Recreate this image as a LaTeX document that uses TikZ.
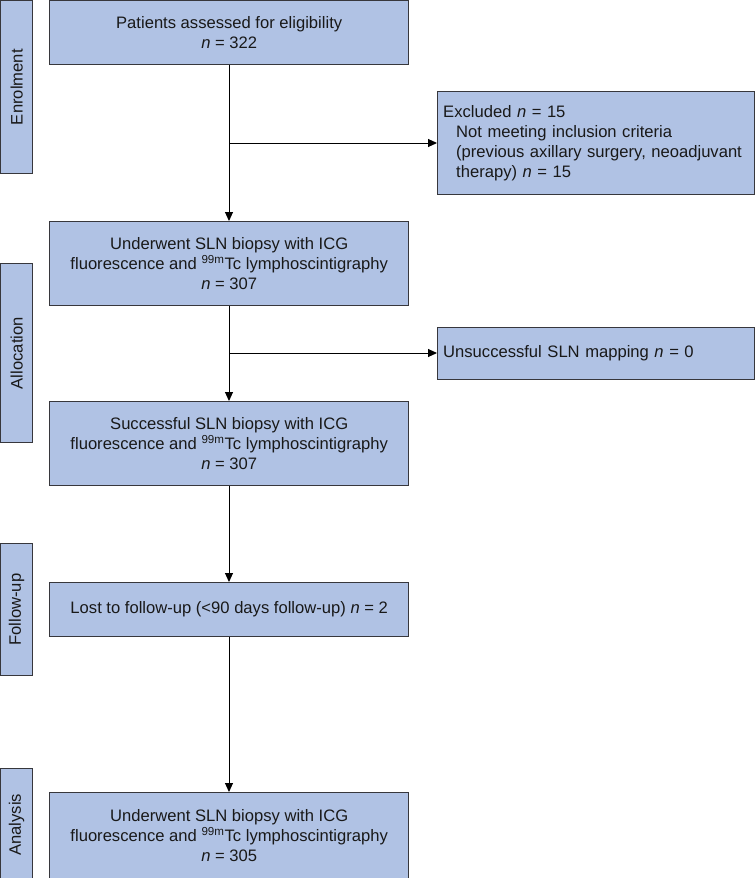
\documentclass[tikz,border=0pt]{standalone}
\usepackage{fontspec}
\setmainfont{Liberation Sans}
\usetikzlibrary{arrows.meta}
\definecolor{boxfill}{RGB}{176,194,228}
\definecolor{boxline}{RGB}{55,55,60}
\definecolor{ink}{RGB}{25,25,25}
\begin{document}
\begin{tikzpicture}[x=1pt,y=-1pt,
  box/.style={draw=boxline, fill=boxfill, line width=1.4pt, inner sep=0pt,
    anchor=north west, text=ink, font=\fontsize{16.6}{20.2}\selectfont},
  mainbox/.style={box, minimum width=359pt, align=center},
  sidebox/.style={box, minimum width=317pt, align=left},
  phase/.style={box, minimum width=32pt},
  phasetext/.style={text=ink, rotate=90, inner sep=0pt, font=\fontsize{16.6}{20}\selectfont},
  conn/.style={draw=black, line width=1pt, -{Triangle[length=9pt,width=8pt]}}]
\useasboundingbox (0,0) rectangle (755,878);
% phase labels
\node[phase, minimum height=173pt] (enrol) at (0,0) {};
\node[phasetext] (enrolt) at (enrol.center) {Enrolment};
\node[phase, minimum height=179pt] (alloc) at (0,263) {};
\node[phasetext] (alloct) at (alloc.center) {Allocation};
\node[phase, minimum height=132pt] (follow) at (0,543) {};
\node[phasetext] (followt) at (follow.center) {Follow-up};
\node[phase, minimum height=112pt] (analysis) at (0,768) {};
\node[phasetext] (analysist) at (analysis.center) {Analysis};
% main boxes
\node[mainbox, minimum height=64pt] (b1) at (49,0) {Patients assessed for eligibility\\ \textit{n} = 322};
\node[mainbox, minimum height=84pt] (b2) at (49,221) {Underwent SLN biopsy with ICG\\ fluorescence and \textsuperscript{99m}Tc lymphoscintigraphy\\ \textit{n} = 307};
\node[mainbox, minimum height=84pt] (b3) at (49,401) {Successful SLN biopsy with ICG\\ fluorescence and \textsuperscript{99m}Tc lymphoscintigraphy\\ \textit{n} = 307};
\node[mainbox, minimum height=54pt] (b4) at (49,582) {Lost to follow-up (<90 days follow-up) \textit{n} = 2};
\node[mainbox, minimum height=86pt] (b5) at (49,792) {Underwent SLN biopsy with ICG\\ fluorescence and \textsuperscript{99m}Tc lymphoscintigraphy\\ \textit{n} = 305};
% side boxes
\node[sidebox, minimum height=103pt, text width=306pt] (ex) at (437,91) {Excluded \textit{n} = 15\\
  \hspace*{13pt}Not meeting inclusion criteria\\
  \hspace*{13pt}(previous axillary surgery, neoadjuvant\\
  \hspace*{13pt}therapy) \textit{n} = 15};
\node[sidebox, minimum height=52pt, text width=306pt] (un) at (437,327) {Unsuccessful SLN mapping \textit{n} = 0};
% connectors
\coordinate (j1) at (229,143);
\coordinate (j2) at (229,353);
\draw[conn] (b1.south -| j1) -- (b2.north -| j1);
\draw[conn] (j1) -- (ex.west |- j1);
\draw[conn] (b2.south -| j2) -- (b3.north -| j2);
\draw[conn] (j2) -- (un.west |- j2);
\draw[conn] (b3.south -| j2) -- (b4.north -| j2);
\draw[conn] (b4.south -| j2) -- (b5.north -| j2);
\end{tikzpicture}
\end{document}
